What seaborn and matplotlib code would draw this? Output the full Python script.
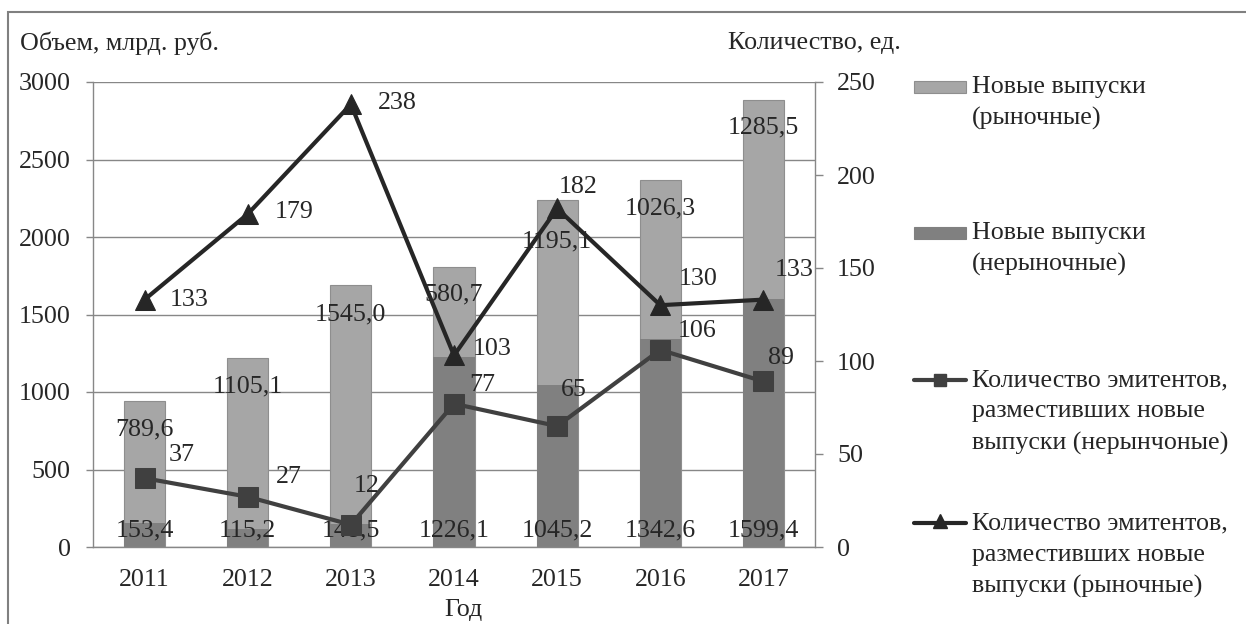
import numpy as np
import pandas as pd
import matplotlib
matplotlib.use('Agg')
import matplotlib.pyplot as plt
from matplotlib.patches import Rectangle
from matplotlib.lines import Line2D
import seaborn as sns

# Data
years = ['2011', '2012', '2013', '2014', '2015', '2016', '2017']
vol_market = [789.6, 1105.1, 1545.0, 580.7, 1195.1, 1026.3, 1285.5]
vol_nonmarket = [153.4, 115.2, 148.5, 1226.1, 1045.2, 1342.6, 1599.4]
issuers_nonmarket = [37, 27, 12, 77, 65, 106, 89]
issuers_market = [133, 179, 238, 103, 182, 130, 133]

# label placement (pixels), not data
sq_offsets = [(37, 23), (41, 20), (16, 39), (28, 19), (17, 36), (37, 19), (18, 23)]
tri_offsets = [(45, 0), (46, 2), (46, 1), (38, 6), (21, 21), (38, 26), (31, 30)]
top_drop = [29, 29, 30, 28, 42, 29, 28]

LIGHT = '#a6a6a6'
DARK = '#808080'
SQ_COL = '#404040'
TRI_COL = '#262626'
GRID = '#878787'
FS = 18.7

sns.set_style('white')
plt.rcParams['font.family'] = ['Liberation Serif', 'DejaVu Serif']
plt.rcParams['font.size'] = FS

W, H = 1246, 624
fig = plt.figure(figsize=(W / 100, H / 100), dpi=100)


def fx(px):
    return px / W


def fy(py):
    return 1 - py / H


ax = fig.add_axes([fx(93), fy(547), (815 - 93) / W, (547 - 82) / H])

pos = np.arange(len(years))
df = pd.DataFrame({'pos': pos, 'market': vol_market, 'nonmarket': vol_nonmarket})
df['total'] = df['market'] + df['nonmarket']

sns.barplot(data=df, x='pos', y='total', color=LIGHT, saturation=1, width=0.4,
            edgecolor='#8e8e8e', linewidth=0.8, ax=ax)
sns.barplot(data=df, x='pos', y='nonmarket', color=DARK, saturation=1, width=0.4,
            linewidth=0, ax=ax)

ax.set_xlim(-0.5, len(years) - 0.5)
ax.set_ylim(0, 3000)
ax.set_yticks(np.arange(0, 3001, 500))
ax.set_xticks(pos, labels=years)
ax.set_xticks(np.arange(-0.5, len(years), 1), minor=True)
ax.tick_params(axis='x', which='major', length=0, pad=16, labelsize=FS)
ax.tick_params(axis='x', which='minor', length=6, width=1, color=GRID)
ax.tick_params(axis='y', length=5, width=1, color=GRID, pad=11, labelsize=FS)
ax.yaxis.grid(True, color=GRID, linewidth=1)
ax.xaxis.grid(False)
ax.set_axisbelow(True)
for s in ['top', 'right']:
    ax.spines[s].set_visible(False)
for s in ['left', 'bottom']:
    ax.spines[s].set_color(GRID)
    ax.spines[s].set_linewidth(1)

ax.set_xlabel('Год', fontsize=FS)
ax.xaxis.set_label_coords((463 - 93) / 722, (547 - 610) / 465)
ax.xaxis.label.set_va('center')
ax.set_ylabel('Объем, млрд. руб.', rotation=0, fontsize=FS, ha='left', va='center')
ax.yaxis.set_label_coords((20 - 93) / 722, (547 - 43) / 465)

# bar labels
for i, row in df.iterrows():
    ax.annotate(f"{row['market']:.1f}".replace('.', ','), xy=(i, row['total']),
                xytext=(0, -top_drop[i]), textcoords='offset pixels',
                ha='center', va='center', fontsize=FS)
    ax.annotate(f"{row['nonmarket']:.1f}".replace('.', ','), xy=(i, 0),
                xytext=(0, 17), textcoords='offset pixels',
                ha='center', va='center', fontsize=FS)

# secondary axis with issuer counts
ax2 = ax.twinx()
sns.lineplot(x=pos, y=issuers_nonmarket, color=SQ_COL, linewidth=3, marker='s',
             markersize=14, markeredgecolor=SQ_COL, ax=ax2, legend=False)
sns.lineplot(x=pos, y=issuers_market, color=TRI_COL, linewidth=3, marker='^',
             markersize=15, markeredgecolor=TRI_COL, ax=ax2, legend=False)
ax2.set_ylim(0, 250)
ax2.set_yticks(np.arange(0, 251, 50))
ax2.tick_params(axis='y', length=6, width=1, color=GRID, pad=10, labelsize=FS)
ax2.grid(False)
for s in ['top', 'left', 'bottom']:
    ax2.spines[s].set_visible(False)
ax2.spines['right'].set_color(GRID)
ax2.spines['right'].set_linewidth(1)
ax2.set_ylabel('Количество, ед.', rotation=0, fontsize=FS, ha='left', va='center')
ax2.yaxis.set_label_coords((728 - 93) / 722, (547 - 43) / 465)

for i, v in enumerate(issuers_nonmarket):
    ax2.annotate(str(v), xy=(i, v), xytext=sq_offsets[i], textcoords='offset pixels',
                 ha='center', va='center', fontsize=FS)
for i, v in enumerate(issuers_market):
    ax2.annotate(str(v), xy=(i, v), xytext=tri_offsets[i], textcoords='offset pixels',
                 ha='center', va='center', fontsize=FS)

# legend drawn by hand to match the spaced-out layout
fig.patches.append(Rectangle((fx(914), fy(93)), (966 - 914) / W, 12 / H,
                             transform=fig.transFigure, facecolor=LIGHT,
                             edgecolor='#8e8e8e', linewidth=0.8))
fig.patches.append(Rectangle((fx(914), fy(239)), (966 - 914) / W, 12 / H,
                             transform=fig.transFigure, facecolor=DARK,
                             edgecolor=DARK, linewidth=0.8))
fig.lines.append(Line2D([fx(914), fx(966)], [fy(380), fy(380)], transform=fig.transFigure,
                        color=SQ_COL, linewidth=3))
fig.lines.append(Line2D([fx(940)], [fy(380)], transform=fig.transFigure, color=SQ_COL,
                        marker='s', markersize=9, linestyle='none'))
fig.lines.append(Line2D([fx(914), fx(966)], [fy(523), fy(523)], transform=fig.transFigure,
                        color=TRI_COL, linewidth=3))
fig.lines.append(Line2D([fx(940)], [fy(521)], transform=fig.transFigure, color=TRI_COL,
                        marker='^', markersize=10, linestyle='none'))

legend_blocks = [
    (87, ['Новые выпуски', '(рыночные)']),
    (233, ['Новые выпуски', '(нерыночные)']),
    (380, ['Количество эмитентов,', 'разместивших новые', 'выпуски (нерынчоные)']),
    (523, ['Количество эмитентов,', 'разместивших новые', 'выпуски (рыночные)']),
]
for y0, lines in legend_blocks:
    for k, line in enumerate(lines):
        fig.text(fx(972), fy(y0 + k * 31.5), line, ha='left', va='center', fontsize=FS)

# outer frame
fig.patches.append(Rectangle((fx(8), -0.1), 1.2, fy(12) + 0.1, transform=fig.transFigure,
                             fill=False, edgecolor='#808080', linewidth=1.5))

fig.savefig('out.png', dpi=100)
